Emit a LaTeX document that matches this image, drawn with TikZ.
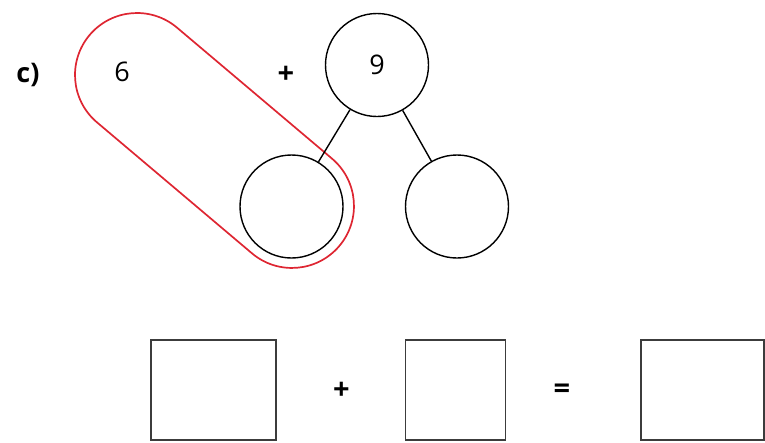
\documentclass[tikz,border=0pt]{standalone}
\usepackage{fontspec}
\setmainfont{Open Sans}
\definecolor{loopred}{RGB}{222,38,50}
\definecolor{boxgrey}{RGB}{60,60,60}
\begin{document}
\begin{tikzpicture}[x=1pt,y=1pt,
  numcircle/.style={circle,draw=black,line width=1.4pt,minimum size=103pt,inner sep=0pt,font=\fontsize{27}{30}\selectfont},
  answerbox/.style={rectangle,draw=boxgrey,line width=1.5pt,minimum height=100pt,inner sep=0pt},
  label/.style={font=\fontsize{27}{30}\selectfont,inner sep=0pt},
  oplabel/.style={font=\fontsize{29}{32}\selectfont\bfseries,inner sep=0pt},
  link/.style={draw=black,line width=1.4pt}]
\useasboundingbox (0,0) rectangle (765,-442);
% red loop
\begin{scope}[shift={(137,-75)},rotate=-40.2]
  \draw[loopred,line width=1.7pt] (0,62) -- (202.9,62) arc[start angle=90,end angle=-90,radius=62] -- (0,-62) arc[start angle=270,end angle=90,radius=62] -- cycle;
\end{scope}
% labels
\node[label,font=\fontsize{27}{30}\selectfont\bfseries] (c) at (28,-75) {c)};
\node[label] (six) at (122,-72) {6};
\node[oplabel] (plusA) at (286,-75) {+};
% number bond
\node[numcircle] (top) at (377,-65) {9};
\node[numcircle] (left) at (291.5,-206.5) {};
\node[numcircle] (right) at (457,-206.5) {};
\draw[link] (top) -- (left);
\draw[link] (top) -- (right);
% equation boxes
\node[answerbox,minimum width=125pt] (b1) at (213.5,-390) {};
\node[oplabel] (plusB) at (341.5,-391) {+};
\node[answerbox,minimum width=100pt] (b2) at (455.5,-390) {};
\node[oplabel] (eq) at (562,-391) {=};
\node[answerbox,minimum width=123pt] (b3) at (702.5,-390) {};
\end{tikzpicture}
\end{document}
